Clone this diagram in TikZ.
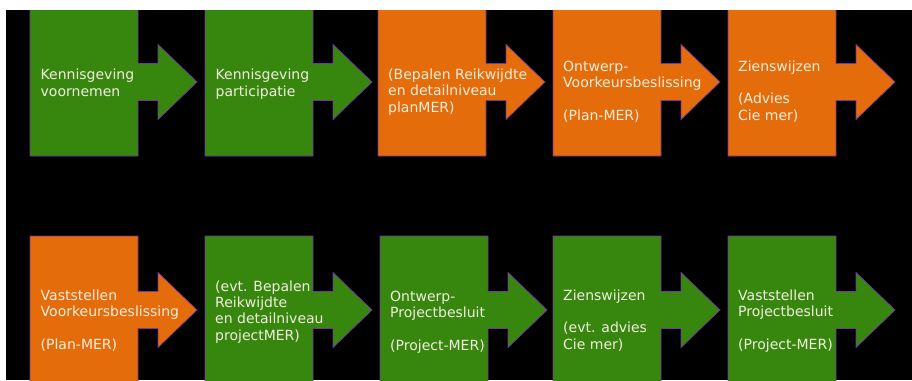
\documentclass[tikz,border=0pt]{standalone}
\usepackage{fontspec}
\setmainfont{DejaVu Sans}
\definecolor{stepgreen}{RGB}{55,135,15}
\definecolor{steporange}{RGB}{228,108,10}
\definecolor{stepedge}{RGB}{120,50,170}
\definecolor{steptext}{RGB}{242,238,222}
\tikzset{
  stepshape/.style={draw=stepedge, line width=0.7pt, line join=miter},
  steplabel/.style={anchor=base west, align=left, inner sep=0pt, text=steptext,
    font=\fontsize{14}{16.3}\selectfont},
}

\begin{document}
\begin{tikzpicture}[x=1pt, y=-1pt]
  % Frame
  \useasboundingbox (0,0) rectangle (912,380);
  \fill[white] (0,0) rectangle (912,380);
  \fill[black] (6,10) rectangle (912,380);
  \clip (6,10) rectangle (912,380);

  % Block arrows: left / centre / top / bottom / colour
  \foreach \l/\c/\t/\b/\col in {30/82/4/156/stepgreen, 205/82/4/156/stepgreen,
      378/82/4/156/steporange, 553/82/4/156/steporange, 728/82/4/156/steporange,
      30/310/236/386/steporange, 205/310/236/386/stepgreen, 380/310/236/386/stepgreen,
      553/310/236/386/stepgreen, 728/310/236/386/stepgreen}
    \draw[stepshape, fill=\col] (\l,\t) -- (\l+108,\t) -- (\l+108,\c-18.5)
      -- (\l+128,\c-18.5) -- (\l+128,\c-37.5) -- (\l+167,\c) -- (\l+128,\c+37.5)
      -- (\l+128,\c+18.5) -- (\l+108,\c+18.5) -- (\l+108,\b) -- (\l,\b) -- cycle;

  % Top row (placed by the baseline of the last line)
  \node[steplabel] (kvoor) at (40.5,96) {Kennisgeving\\voornemen};
  \node[steplabel] (kpart) at (215.5,96) {Kennisgeving\\participatie};
  \node[steplabel] (bplan) at (388,112) {(Bepalen Reikwijdte\\en detailniveau\\planMER)};
  \node[steplabel] (ovkb) at (563,120) {Ontwerp-\\Voorkeursbeslissing\\[16.3pt](Plan-MER)};
  \node[steplabel] (zplan) at (738,120) {Zienswijzen\\[16.3pt](Advies\\Cie mer)};

  % Bottom row
  \node[steplabel] (vvkb) at (40.5,349) {Vaststellen\\Voorkeursbeslissing\\[16.3pt](Plan-MER)};
  \node[steplabel] (bproj) at (215,340) {(evt. Bepalen\\Reikwijdte\\en detailniveau\\projectMER)};
  \node[steplabel] (opb) at (390,350) {Ontwerp-\\Projectbesluit\\[16.3pt](Project-MER)};
  \node[steplabel] (zproj) at (563,349) {Zienswijzen\\[16.3pt](evt. advies\\Cie mer)};
  \node[steplabel] (vpb) at (738,349) {Vaststellen\\Projectbesluit\\[16.3pt](Project-MER)};
\end{tikzpicture}
\end{document}
